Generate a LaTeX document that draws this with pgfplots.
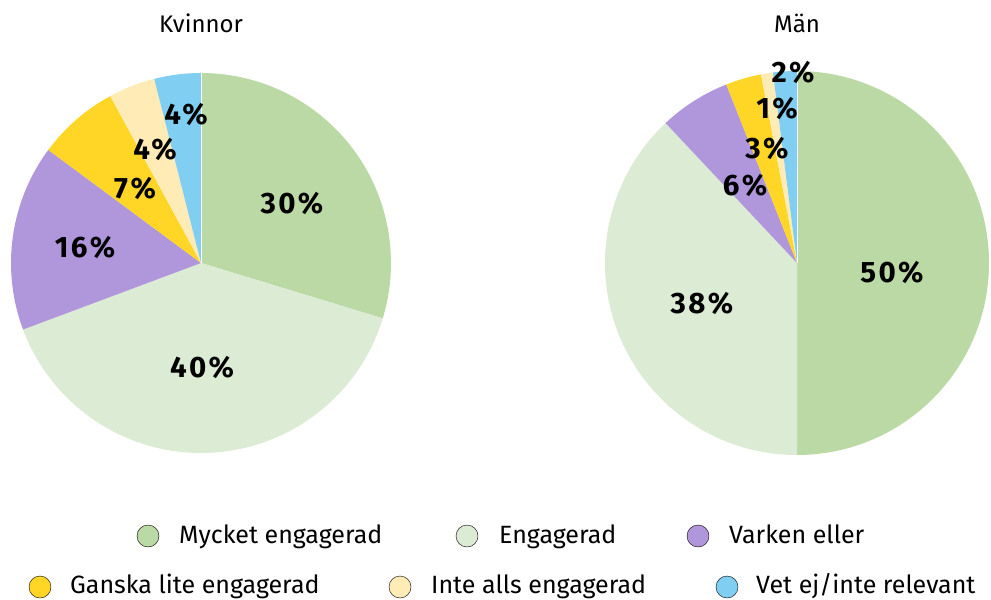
\documentclass[border=0pt]{standalone}
\usepackage{fontspec}
\setmainfont{Fira Sans}
\newfontfamily\labelfont[LetterSpace=8]{Fira Sans}
\usepackage{pgfplots}
\usepackage{pgfplotstable}
\pgfplotsset{compat=1.18}

\definecolor{c0}{HTML}{BBD9A5}
\definecolor{c1}{HTML}{DCEBD3}
\definecolor{c2}{HTML}{B096DA}
\definecolor{c3}{HTML}{FFD625}
\definecolor{c4}{HTML}{FFEBB5}
\definecolor{c5}{HTML}{80CFF2}

% Kvinnor
\pgfplotstableread{
value
30
40
16
7
4
4
}\kvinnor
% Män
\pgfplotstableread{
value
50
38
6
3
1
2
}\man

\newcommand\computepie[2]{%
  \pgfplotstablegetrowsof{#1}%
  \pgfmathtruncatemacro\nrows{\pgfplotsretval-1}%
  \gdef\pietotal{0}%
  \foreach \i in {0,...,\nrows}{%
    \pgfplotstablegetelem{\i}{value}\of{#1}%
    \pgfmathsetmacro\ptmp{\pietotal+\pgfplotsretval}%
    \xdef\pietotal{\ptmp}%
  }%
  \gdef\piecum{0}%
  \foreach \i in {0,...,\nrows}{%
    \pgfplotstablegetelem{\i}{value}\of{#1}%
    \pgfmathsetmacro\psa{90-360*(\piecum/\pietotal)}%
    \pgfmathsetmacro\pcc{\piecum+\pgfplotsretval}%
    \xdef\piecum{\pcc}%
    \pgfmathsetmacro\pea{90-360*(\piecum/\pietotal)}%
    \expandafter\xdef\csname #2s\i\endcsname{\psa}%
    \expandafter\xdef\csname #2e\i\endcsname{\pea}%
  }%
}

\begin{document}
\computepie{\kvinnor}{K}%
\computepie{\man}{M}%
\begin{tikzpicture}
\begin{axis}[
  x=1bp, y=1bp,
  xmin=0, xmax=991, ymin=0, ymax=600,
  y dir=reverse,
  hide axis, clip=false,
]
\path (axis cs:0,0) rectangle (axis cs:991,600);
% Kvinnor pie
\pgfplotsinvokeforeach{0,...,5}{
  \fill[c#1] (axis cs:201,263) -- ++(\csname Ks#1\endcsname:190bp)
    arc[start angle=\csname Ks#1\endcsname, end angle=\csname Ke#1\endcsname, radius=190bp] -- cycle;
}
% Män pie
\pgfplotsinvokeforeach{0,...,5}{
  \fill[c#1] (axis cs:797,263) -- ++(\csname Ms#1\endcsname:192bp)
    arc[start angle=\csname Ms#1\endcsname, end angle=\csname Me#1\endcsname, radius=192bp] -- cycle;
}
\draw[white, line width=0.6bp] (axis cs:201,263) -- ++(90:190bp);
\draw[white, line width=0.6bp] (axis cs:797,263) -- ++(90:192bp);

% titles
\node[anchor=base, font=\fontsize{24bp}{28bp}\selectfont, inner sep=0] at (axis cs:201,33) {Kvinnor};
\node[anchor=base, font=\fontsize{24bp}{28bp}\selectfont, inner sep=0] at (axis cs:797,33) {Män};

% labels
\tikzset{lab/.style={anchor=center, inner sep=0, font=\labelfont\bfseries\fontsize{29.5bp}{32bp}\selectfont}}
\node[lab] at (axis cs:292,203) {30\%};
\node[lab] at (axis cs:202,367) {40\%};
\node[lab] at (axis cs:85,247) {16\%};
\node[lab] at (axis cs:135,188) {7\%};
\node[lab] at (axis cs:155,149) {4\%};
\node[lab] at (axis cs:186,114) {4\%};
\node[lab] at (axis cs:892,272) {50\%};
\node[lab] at (axis cs:702,303) {38\%};
\node[lab] at (axis cs:745,185) {6\%};
\node[lab] at (axis cs:767,148) {3\%};
\node[lab] at (axis cs:777,108) {1\%};
\node[lab] at (axis cs:793,72) {2\%};

% legend markers
\addplot[only marks, mark=*, mark size=11bp, mark options={fill=c0, draw=none}] coordinates {(148,536)};
\addplot[only marks, mark=*, mark size=11bp, mark options={fill=c1, draw=none}] coordinates {(467,536)};
\addplot[only marks, mark=*, mark size=11bp, mark options={fill=c2, draw=none}] coordinates {(698,536)};
\addplot[only marks, mark=*, mark size=11bp, mark options={fill=c3, draw=none}] coordinates {(40,587)};
\addplot[only marks, mark=*, mark size=11bp, mark options={fill=c4, draw=none}] coordinates {(400,587)};
\addplot[only marks, mark=*, mark size=11bp, mark options={fill=c5, draw=none}] coordinates {(727,587)};

\tikzset{leg/.style={anchor=base west, inner sep=0, font=\fontsize{25bp}{28bp}\selectfont}}
\node[leg] at (axis cs:179,543) {Mycket engagerad};
\node[leg] at (axis cs:499,543) {Engagerad};
\node[leg] at (axis cs:729,543) {Varken eller};
\node[leg] at (axis cs:70,593) {Ganska lite engagerad};
\node[leg] at (axis cs:431,593) {Inte alls engagerad};
\node[leg] at (axis cs:756,593) {Vet ej/inte relevant};
\end{axis}
\end{tikzpicture}
\end{document}
